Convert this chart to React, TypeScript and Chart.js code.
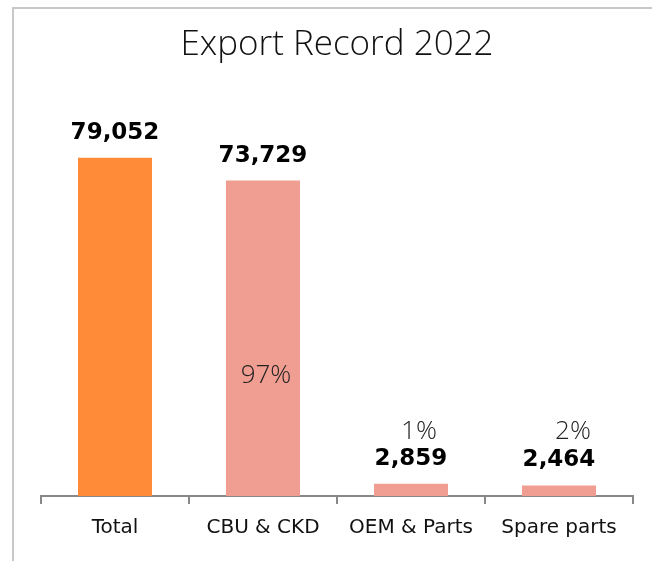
import React, { useEffect, useRef } from "react";
import { Chart, registerables } from "chart.js";

Chart.register(...registerables);

const categories = ["Total", "CBU & CKD", "OEM & Parts", "Spare parts"];
const values = [79052, 73729, 2859, 2464];
const percentLabels = ["", "97%", "1%", "2%"];
const titleText = "Export Record 2022";

const barColors = ["#FF8A38", "#F19E92", "#F19E92", "#F19E92"];
// pixel offsets of the percent labels relative to the bar's base centre
const percentOffsets = [
  { dx: 0, dy: 0 },
  { dx: 3, dy: -120 },
  { dx: 8, dy: -64 },
  { dx: 14, dy: -64 },
];

const labelsPlugin = {
  id: "barLabels",
  afterDatasetsDraw(chart: any) {
    const ctx = chart.ctx;
    const meta = chart.getDatasetMeta(0);
    ctx.save();
    meta.data.forEach((bar: any, i: number) => {
      ctx.font = "bold 23px 'DejaVu Sans'";
      ctx.fillStyle = "#000";
      ctx.textAlign = "center";
      ctx.textBaseline = "alphabetic";
      ctx.fillText(values[i].toLocaleString("en-US"), bar.x, bar.y - 19);
      if (percentLabels[i]) {
        ctx.font = "300 26px 'Open Sans'";
        ctx.fillStyle = "#222";
        ctx.textBaseline = "middle";
        ctx.fillText(percentLabels[i], bar.x + percentOffsets[i].dx, bar.base + percentOffsets[i].dy);
      }
    });
    ctx.restore();
  },
};

export default function App() {
  const ref = useRef<HTMLCanvasElement>(null);
  useEffect(() => {
    if (!ref.current) return;
    const chart = new Chart(ref.current, {
      type: "bar",
      data: {
        labels: categories,
        datasets: [
          {
            data: values,
            backgroundColor: barColors,
            barPercentage: 0.5,
            categoryPercentage: 1,
          },
        ],
      },
      options: {
        animation: false,
        responsive: false,
        layout: { padding: { left: 41, right: 19, top: 0, bottom: 9 } },
        plugins: {
          legend: { display: false },
          tooltip: { enabled: false },
          title: {
            display: true,
            text: titleText,
            color: "#111",
            font: { family: "'Open Sans'", size: 35, weight: "300" as any, lineHeight: 1.2 },
            padding: { top: 24, bottom: 45 },
          },
        },
        scales: {
          x: {
            grid: {
              display: true,
              drawOnChartArea: false,
              drawTicks: true,
              tickLength: 8,
              offset: true,
              color: "#888",
              lineWidth: 2,
            },
            border: { display: true, color: "#888", width: 2 },
            ticks: {
              color: "#111",
              padding: 12,
              font: { family: "'DejaVu Sans'", size: 20 },
            },
          },
          y: { display: false, min: 0, max: 90000 },
        },
      },
      plugins: [labelsPlugin],
    });
    return () => chart.destroy();
  }, []);
  return (
    <div style={{ position: "fixed", left: 0, top: 0, width: 652, height: 561, background: "#fff" }}>
      <canvas ref={ref} width={652} height={561} style={{ position: "absolute", left: 0, top: 0 }} />
      <div
        style={{
          position: "absolute",
          left: 12,
          top: 7,
          width: 640,
          height: 554,
          borderLeft: "2px solid #c8c8c8",
          borderTop: "2px solid #c8c8c8",
          pointerEvents: "none",
        }}
      />
    </div>
  );
}
